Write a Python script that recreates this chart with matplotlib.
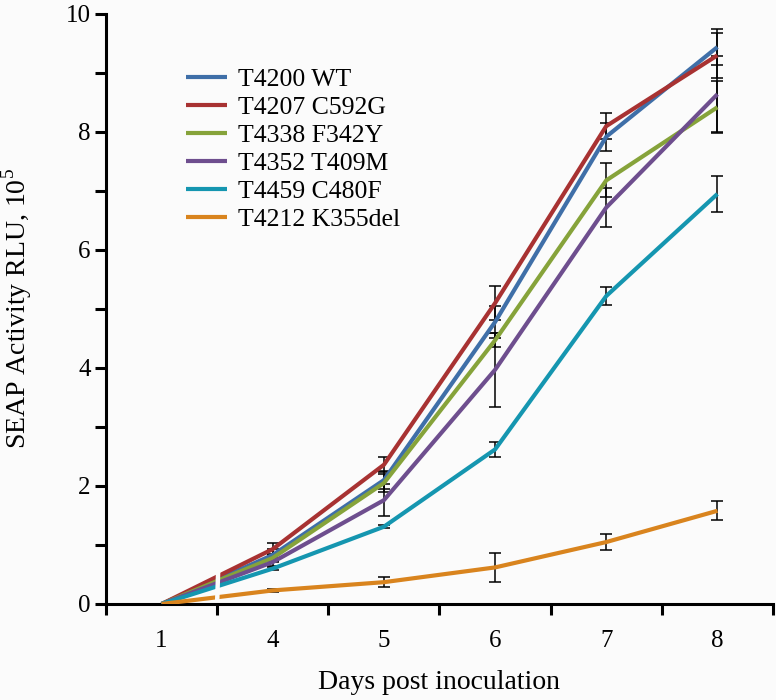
import matplotlib
matplotlib.use("Agg")
import matplotlib.pyplot as plt
from matplotlib.patches import Polygon
import numpy as np

days = ["1", "4", "5", "6", "7", "8"]
series_names = ["T4200 WT", "T4207 C592G", "T4338 F342Y", "T4352 T409M", "T4459 C480F", "T4212 K355del"]
colors = ["#3F6FA8", "#A83232", "#86A33A", "#6E4E8E", "#1596B0", "#D9841E"]

wt      = [0, 0.83, 2.10, 4.78, 7.92, 9.44]
c592g   = [0, 0.93, 2.36, 5.10, 8.10, 9.30]
f342y   = [0, 0.78, 2.05, 4.47, 7.18, 8.42]
t409m   = [0, 0.71, 1.76, 3.97, 6.72, 8.64]
c480f   = [0, 0.60, 1.31, 2.62, 5.22, 6.95]
k355del = [0, 0.23, 0.37, 0.62, 1.05, 1.58]

wt_err      = [0, 0.10, 0.15, 0.27, 0.24, 0.31]
c592g_err   = [0, 0.10, 0.13, 0.29, 0.22, 0.38]
f342y_err   = [0, 0.07, 0.15, 0.12, 0.29, 0.44]
t409m_err   = [0, 0.07, 0.27, 0.63, 0.33, 0.64]
c480f_err   = [0, 0.03, 0.03, 0.13, 0.15, 0.31]
k355del_err = [0, 0.02, 0.09, 0.24, 0.13, 0.16]

values = [wt, c592g, f342y, t409m, c480f, k355del]
errors = [wt_err, c592g_err, f342y_err, t409m_err, c480f_err, k355del_err]

plt.rcParams['font.family'] = ['Liberation Serif', 'DejaVu Serif']
plt.rcParams['mathtext.fontset'] = 'custom'
plt.rcParams['mathtext.rm'] = 'Liberation Serif'

fig = plt.figure(figsize=(7.76, 7.0), dpi=100, facecolor='#fbfbfb')
ax = fig.add_axes([106/776, 1-604/700, 667/776, 590/700])
ax.set_facecolor('#fbfbfb')

x = np.arange(len(days))
handles = []
for name, col, v, e in zip(series_names, colors, values, errors):
    ax.errorbar(x[1:], v[1:], yerr=e[1:], fmt='none', ecolor='black',
                elinewidth=1.1, capsize=4, capthick=1.1, zorder=2)
for name, col, v in zip(series_names, colors, values):
    h, = ax.plot(x, v, color=col, lw=3.0, label=name, zorder=3,
                 solid_capstyle='butt', solid_joinstyle='miter')
    handles.append(h)

# axis break marker
bx = 0.5
w = 0.02
brk = Polygon([(bx - w, 0.05), (bx + w, 0.05), (bx + w + 0.01, 0.62), (bx - w + 0.01, 0.62)],
              closed=True, facecolor='#fbfbfb', edgecolor='none', zorder=4)
ax.add_patch(brk)

ax.set_xlim(-0.5, 5.5)
ax.set_ylim(0, 10)
ax.spines['top'].set_visible(False)
ax.spines['right'].set_visible(False)
ax.spines['left'].set_linewidth(2.2)
ax.spines['bottom'].set_linewidth(2.2)

ax.set_xticks(np.arange(-0.5, 6.0, 1.0))
ax.set_xticklabels([])
ax.set_xticks(x, minor=True)
ax.set_xticklabels(days, minor=True)
ax.tick_params(axis='x', which='major', length=8, width=2.2, direction='out')
ax.tick_params(axis='x', which='minor', length=0, pad=19, labelsize=18)

ax.set_yticks([0, 2, 4, 6, 8, 10])
ax.set_yticks([1, 3, 5, 7, 9], minor=True)
ax.tick_params(axis='y', which='both', length=8, width=2.2, direction='out', labelsize=18, pad=3)

ax.set_xlabel("Days post inoculation", fontsize=20)
ax.xaxis.set_label_coords(0.5, -0.112)
ax.set_ylabel(r"SEAP Activity RLU, 10$^{5}$", fontsize=20)
ax.yaxis.set_label_coords(-0.108, 0.5)

ax.legend(handles=handles, loc='upper left', bbox_to_anchor=(0.085, 0.948),
          frameon=False, fontsize=18.5, handlelength=1.6, handletextpad=0.45,
          labelspacing=0.2)

fig.savefig("out.png", dpi=100, facecolor=fig.get_facecolor())
